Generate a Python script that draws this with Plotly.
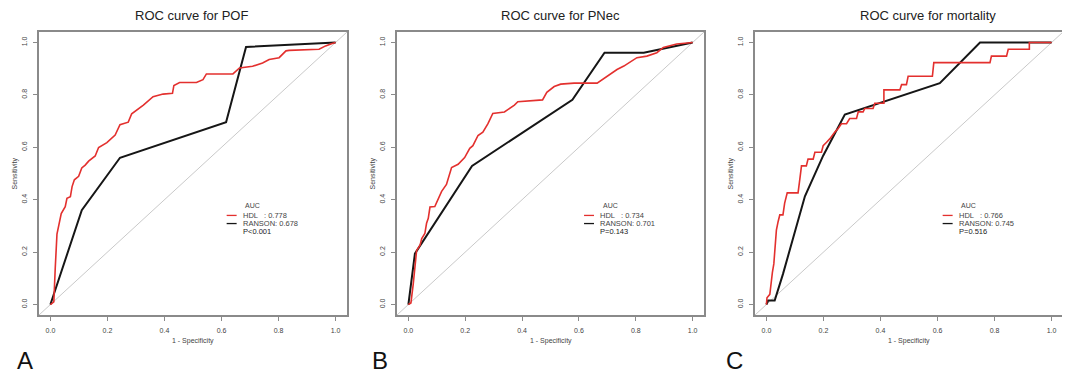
import plotly.graph_objects as go

# The page body has an 8px margin, so the figure is drawn 8px smaller and all
# layout positions (measured on the reference, in window pixels) are shifted.
WIN_W, WIN_H, OFF = 1070, 372, 8
W, H = WIN_W - OFF, WIN_H - OFF

# ---------------- data ----------------
titles = ["ROC curve for POF", "ROC curve for PNec", "ROC curve for mortality"]
panel_letters = ["A", "B", "C"]
hdl_auc = ["0.778", "0.734", "0.766"]
ranson_auc = ["0.678", "0.701", "0.745"]
p_values = ["P<0.001", "P=0.143", "P=0.516"]
tick_vals = [0.0, 0.2, 0.4, 0.6, 0.8, 1.0]
tick_text = ["0.0", "0.2", "0.4", "0.6", "0.8", "1.0"]

# Panel A: POF
pof_hdl_fpr = [0, 0.012, 0.017, 0.023, 0.038, 0.052, 0.058, 0.070, 0.076, 0.084, 0.099, 0.110, 0.122,
               0.134, 0.157, 0.169, 0.198, 0.227, 0.244, 0.273, 0.285, 0.302, 0.326, 0.360, 0.395,
               0.428, 0.433, 0.453, 0.512, 0.535, 0.547, 0.640, 0.663, 0.709, 0.744, 0.767, 0.802,
               0.826, 0.837, 0.942, 0.965, 0.988, 1.0]
pof_hdl_tpr = [0, 0.010, 0.140, 0.269, 0.347, 0.373, 0.405, 0.411, 0.450, 0.476, 0.489, 0.521, 0.532,
               0.547, 0.567, 0.599, 0.618, 0.647, 0.686, 0.696, 0.728, 0.741, 0.761, 0.793, 0.803,
               0.806, 0.836, 0.847, 0.847, 0.858, 0.880, 0.880, 0.903, 0.909, 0.922, 0.935, 0.942,
               0.968, 0.970, 0.974, 0.987, 0.996, 1.0]
pof_ranson_fpr = [0, 0.110, 0.244, 0.616, 0.686, 0.971, 1.0]
pof_ranson_tpr = [0, 0.360, 0.560, 0.696, 0.983, 0.997, 1.0]

# Panel B: PNec
pnec_hdl_fpr = [0, 0.009, 0.017, 0.023, 0.029, 0.041, 0.047, 0.058, 0.064, 0.070, 0.076, 0.093, 0.105,
                0.117, 0.134, 0.152, 0.175, 0.198, 0.216, 0.227, 0.245, 0.262, 0.280, 0.297, 0.338,
                0.355, 0.373, 0.385, 0.443, 0.472, 0.487, 0.513, 0.536, 0.583, 0.664, 0.682, 0.699,
                0.734, 0.758, 0.804, 0.839, 0.874, 0.897, 0.944, 1.0]
pnec_hdl_tpr = [0, 0.006, 0.077, 0.155, 0.206, 0.226, 0.252, 0.271, 0.310, 0.329, 0.372, 0.374, 0.400,
                0.432, 0.458, 0.523, 0.535, 0.561, 0.596, 0.606, 0.645, 0.658, 0.690, 0.729, 0.735,
                0.748, 0.761, 0.774, 0.777, 0.781, 0.810, 0.832, 0.841, 0.845, 0.845, 0.858, 0.871,
                0.897, 0.910, 0.942, 0.948, 0.961, 0.981, 0.994, 1.0]
pnec_ranson_fpr = [0, 0.023, 0.224, 0.577, 0.690, 0.828, 1.0]
pnec_ranson_tpr = [0, 0.194, 0.529, 0.781, 0.961, 0.961, 1.0]

# Panel C: mortality
mort_hdl_fpr = [0, 0.002, 0.012, 0.014, 0.018, 0.021, 0.026, 0.029, 0.035, 0.041, 0.047, 0.058, 0.064,
                0.073, 0.111, 0.117, 0.123, 0.140, 0.146, 0.164, 0.170, 0.193, 0.199, 0.211, 0.222,
                0.240, 0.251, 0.263, 0.281, 0.292, 0.316, 0.322, 0.339, 0.345, 0.374, 0.380, 0.412,
                0.412, 0.468, 0.474, 0.491, 0.497, 0.582, 0.587, 0.784, 0.789, 0.842, 0.848, 0.922,
                0.922, 1.0]
mort_hdl_tpr = [0, 0.026, 0.039, 0.065, 0.084, 0.123, 0.155, 0.213, 0.284, 0.316, 0.342, 0.342, 0.387,
                0.426, 0.426, 0.477, 0.529, 0.529, 0.555, 0.555, 0.581, 0.581, 0.606, 0.619, 0.632,
                0.658, 0.671, 0.690, 0.690, 0.710, 0.710, 0.735, 0.735, 0.748, 0.748, 0.768, 0.768,
                0.819, 0.819, 0.839, 0.839, 0.871, 0.871, 0.923, 0.923, 0.948, 0.948, 0.974, 0.974,
                1.0, 1.0]
mort_ranson_fpr = [0, 0.006, 0.029, 0.058, 0.135, 0.199, 0.275, 0.608, 0.749, 1.0]
mort_ranson_tpr = [0, 0.015, 0.015, 0.116, 0.413, 0.568, 0.725, 0.845, 1.0, 1.0]

hdl_fpr = [pof_hdl_fpr, pnec_hdl_fpr, mort_hdl_fpr]
hdl_tpr = [pof_hdl_tpr, pnec_hdl_tpr, mort_hdl_tpr]
ranson_fpr = [pof_ranson_fpr, pnec_ranson_fpr, mort_ranson_fpr]
ranson_tpr = [pof_ranson_tpr, pnec_ranson_tpr, mort_ranson_tpr]

# ---------------- layout geometry (window pixels) ----------------
box_left = [39, 397, 755]
box_right = [347, 704, 1063]
box_top, box_bottom = 32, 315
title_cx = [191, 560, 928]
letter_cx = [25, 380, 734]
RANGE = [-0.04, 1.04]

RED = "#e3302e"
BLACK = "#161616"
GRAY_TXT = "#444444"
FONT = "Liberation Sans, Arial, sans-serif"


def px(x):
    return (x - OFF) / W


def py(y):
    return 1 - (y - OFF) / H


fig = go.Figure()
annotations = []
shapes = []

for i in range(3):
    sfx = "" if i == 0 else str(i + 1)
    xa, ya = "x" + sfx, "y" + sfx
    # reference diagonal
    fig.add_trace(go.Scatter(x=RANGE, y=RANGE, mode="lines", xaxis=xa, yaxis=ya,
                             line=dict(color="#c9c9c9", width=1), showlegend=False,
                             hoverinfo="skip"))
    fig.add_trace(go.Scatter(x=ranson_fpr[i], y=ranson_tpr[i], mode="lines", xaxis=xa, yaxis=ya,
                             line=dict(color=BLACK, width=2), showlegend=False, name="RANSON"))
    fig.add_trace(go.Scatter(x=hdl_fpr[i], y=hdl_tpr[i], mode="lines", xaxis=xa, yaxis=ya,
                             line=dict(color=RED, width=1.6), showlegend=False, name="HDL"))

    axis_common = dict(range=RANGE, showgrid=False, zeroline=False, showline=True, mirror=True,
                       linecolor="#8a8a8a", linewidth=1.5, ticks="outside", ticklen=4,
                       tickwidth=1, tickcolor="#8a8a8a", tickvals=tick_vals, ticktext=tick_text,
                       tickfont=dict(size=7, color=GRAY_TXT, family=FONT))
    fig.layout["xaxis" + sfx] = dict(axis_common, domain=[px(box_left[i]), px(box_right[i])],
                                     anchor=ya, ticklabelstandoff=4)
    fig.layout["yaxis" + sfx] = dict(axis_common, domain=[py(box_bottom), py(box_top)],
                                     anchor=xa, tickangle=-90, ticklabelstandoff=3)

    cx = (box_left[i] + box_right[i]) / 2
    # title
    annotations.append(dict(text=titles[i], x=px(title_cx[i]), y=py(15), xref="paper", yref="paper",
                            showarrow=False, xanchor="center", yanchor="middle",
                            font=dict(size=13, color="#222222", family=FONT)))
    # axis titles
    annotations.append(dict(text="1 - Specificity", x=px(cx), y=py(341), xref="paper", yref="paper",
                            showarrow=False, xanchor="center", yanchor="middle",
                            font=dict(size=7, color=GRAY_TXT, family=FONT)))
    annotations.append(dict(text="Sensitivity", x=px(box_left[i] - 24), y=py((box_top + box_bottom) / 2),
                            xref="paper", yref="paper", showarrow=False, textangle=-90,
                            xanchor="center", yanchor="middle",
                            font=dict(size=7, color=GRAY_TXT, family=FONT)))
    # panel letter
    annotations.append(dict(text=panel_letters[i], x=px(letter_cx[i]), y=py(360), xref="paper",
                            yref="paper", showarrow=False, xanchor="center", yanchor="middle",
                            font=dict(size=24, color="#111111", family=FONT)))
    # legend block (in data coordinates of the panel)
    annotations.append(dict(text="AUC", x=0.71, y=0.378, xref=xa, yref=ya, showarrow=False,
                            xanchor="center", yanchor="middle",
                            font=dict(size=7, color=GRAY_TXT, family=FONT)))
    rows = [("HDL   : " + hdl_auc[i], RED, 0.340), ("RANSON: " + ranson_auc[i], BLACK, 0.309)]
    for label, col, yy in rows:
        shapes.append(dict(type="line", xref=xa, yref=ya, x0=0.618, x1=0.653, y0=yy, y1=yy,
                           line=dict(color=col, width=1.3)))
        annotations.append(dict(text=label, x=0.667, y=yy, xref=xa, yref=ya, showarrow=False,
                                xanchor="left", yanchor="middle",
                                font=dict(size=7.5, color=GRAY_TXT, family=FONT)))
    annotations.append(dict(text=p_values[i], x=0.667, y=0.278, xref=xa, yref=ya, showarrow=False,
                            xanchor="left", yanchor="middle",
                            font=dict(size=7.5, color="#222222", family=FONT)))

fig.update_layout(width=W, height=H, margin=dict(l=0, r=0, t=0, b=0),
                  paper_bgcolor="white", plot_bgcolor="white",
                  annotations=annotations, shapes=shapes, showlegend=False,
                  font=dict(family=FONT))

fig.write_html("out.html")
